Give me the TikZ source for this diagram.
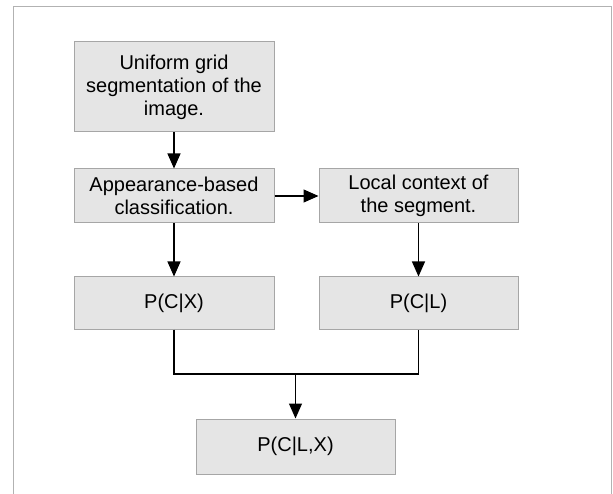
\documentclass[tikz,border=0pt]{standalone}
\usepackage{fontspec}
\setmainfont{Liberation Sans}
\usepackage{tikz}
\usetikzlibrary{arrows.meta}

\begin{document}
\begin{tikzpicture}[
            x = 1pt, y = -1pt, % pixel units
            > = {Triangle[length=15pt,width=13pt]}, % arrow head style
            line width = 1.2pt, % line style
            stepbox/.style = {draw=gray!70, fill=gray!20, line width=1pt,
                              align=center, inner sep=0pt,
                              font=\fontsize{20}{23}\selectfont}
        ]
\useasboundingbox (0,0) rectangle (613,494);
% frame
\draw[gray!60, line width=1pt] (13,494) -- (13,6.5) -- (611,6.5) -- (611,494);

\node[stepbox, minimum width=200pt, minimum height=90pt] (grid) at (174,87) {Uniform grid\\segmentation of the\\image.};
\node[stepbox, minimum width=200pt, minimum height=54pt] (appear) at (174,196) {Appearance-based\\classification.};
\node[stepbox, minimum width=199pt, minimum height=54pt] (local) at (418.5,196) {Local context of\\the segment.};
\node[stepbox, minimum width=200pt, minimum height=52pt] (pcx) at (174,303) {P(C|X)};
\node[stepbox, minimum width=199pt, minimum height=52pt] (pcl) at (418.5,303) {P(C|L)};
\node[stepbox, minimum width=199pt, minimum height=55pt] (pclx) at (295.5,446.5) {P(C|L,X)};
\coordinate (join) at (295.5,374);

\draw [->] (grid) -- (appear);
\draw [->] (appear) -- (local);
\draw [->] (appear) -- (pcx);
\draw [->] (local) -- (pcl);
\draw (pcx.south) |- (join) -| (pcl.south);
\draw [->] (join) -- (pclx);
\end{tikzpicture}
\end{document}
